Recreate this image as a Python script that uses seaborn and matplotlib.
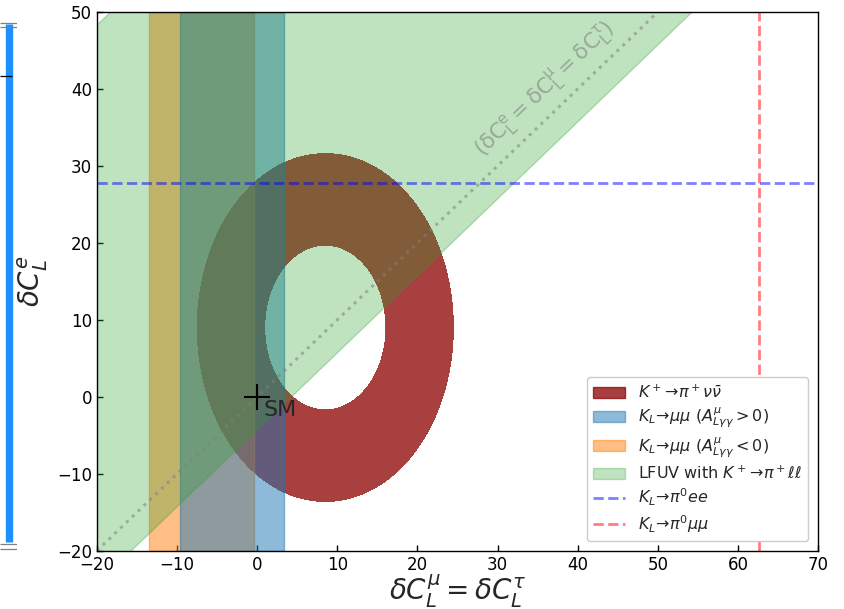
import numpy as np
import matplotlib
matplotlib.use("Agg")
import matplotlib.pyplot as plt
from matplotlib.patches import Patch
from matplotlib.lines import Line2D
import seaborn as sns

# axis ranges / ticks
x_range = [-20, 70]
y_range = [-20, 50]
x_ticks = [-20, -10, 0, 10, 20, 30, 40, 50, 60, 70]
y_ticks = [-20, -10, 0, 10, 20, 30, 40, 50]

# K+ -> pi+ nu nu: (dCe - ce)^2 + 2 (dCmu - cmu)^2 between r_in^2 and r_out^2
kpnn_center = [8.5, 9.0]
kpnn_radii = [10.7, 22.6]

# K_L -> mu mu allowed bands in dC_L^mu
klmm_pos = [-9.6, 3.35]
klmm_neg = [-13.5, -0.4]

# LFUV band, dCe = dCmu + offset
lfuv_offsets = [-4.3, 68.3]

# K_L -> pi0 ee (dCe bound) and K_L -> pi0 mu mu (dCmu bound)
klpee_bound = 27.8
klpmm_bound = 62.6

sm_point = [0, 0]

# stray panel on the left edge (pixel rows)
side_bar = [24, 542]
side_caps = [22.7, 26.7, 544, 549]
side_tick = [75.7]

sns.set_style("ticks", {"xtick.direction": "in", "ytick.direction": "in"})
plt.rcParams['font.family'] = ['DejaVu Sans']

fig = plt.figure(figsize=(8.44, 6.09), dpi=100)
ax = fig.add_axes([97 / 844, 1 - 550.7 / 609, 721 / 844, 538.7 / 609])

# annulus from K+ -> pi+ nu nu
gx, gy = np.meshgrid(np.linspace(x_range[0], x_range[1], 300),
                     np.linspace(y_range[0], y_range[1], 300))
f = (gy - kpnn_center[1]) ** 2 + 2 * (gx - kpnn_center[0]) ** 2
ax.contourf(gx, gy, f, levels=[kpnn_radii[0] ** 2, kpnn_radii[1] ** 2],
            colors=['darkred'], alpha=0.75)

# K_L -> mu mu bands (orange below blue)
ax.axvspan(klmm_neg[0], klmm_neg[1], color='tab:orange', alpha=0.5)
ax.axvspan(klmm_pos[0], klmm_pos[1], color='tab:blue', alpha=0.5)

# LFUV band
xs = np.array(x_range, dtype=float)
ax.fill_between(xs, xs + lfuv_offsets[0], xs + lfuv_offsets[1],
                color='tab:green', alpha=0.3)

# universal line
sns.lineplot(x=xs, y=xs, ax=ax, color='gray', linestyle=':', lw=2.2, alpha=0.55)
ax.text(35.9, 40.0, r'$\mathrm{(\delta C_L^e = \delta C_L^\mu = \delta C_L^\tau)}$',
        rotation=43.8, rotation_mode='anchor', ha='center', va='center',
        fontsize=15.5, color='gray', alpha=0.6)

# K_L -> pi0 l l bounds
ax.axhline(klpee_bound, color='blue', alpha=0.5, ls='--', lw=2)
ax.axvline(klpmm_bound, color='red', alpha=0.5, ls='--', lw=2)

# SM point
ax.plot(sm_point[0], sm_point[1], marker='+', color='k', markersize=19, mew=1.5)
ax.text(sm_point[0] + 0.8, sm_point[1] - 0.4, 'SM', fontsize=16, ha='left', va='top')

ax.set_xlim(x_range)
ax.set_ylim(y_range)
ax.set_xticks(x_ticks)
ax.set_yticks(y_ticks)
ax.tick_params(labelsize=12, length=4.5, width=1, colors='k')
for s in ax.spines.values():
    s.set_color('k')
    s.set_linewidth(1)
ax.set_xlabel(r'$\delta C_L^\mu = \delta C_L^\tau$', fontsize=20, labelpad=-1)
ax.set_ylabel(r'$\delta C_L^e$', fontsize=20, labelpad=5)

handles = [
    Patch(facecolor='darkred', edgecolor='darkred', alpha=0.75),
    Patch(color='tab:blue', alpha=0.5),
    Patch(color='tab:orange', alpha=0.5),
    Patch(color='tab:green', alpha=0.3),
    Line2D([], [], color='blue', alpha=0.5, ls='--', lw=2),
    Line2D([], [], color='red', alpha=0.5, ls='--', lw=2),
]
labels = [
    r'$K^+\!\to\!\pi^+\nu\bar{\nu}$',
    r'$K_L\!\to\!\mu\mu$ ($A^\mu_{L\gamma\gamma}>0$)',
    r'$K_L\!\to\!\mu\mu$ ($A^\mu_{L\gamma\gamma}<0$)',
    r'LFUV with $K^+\!\to\!\pi^+\ell\ell$',
    r'$K_L\!\to\!\pi^0 ee$',
    r'$K_L\!\to\!\pi^0 \mu\mu$',
]
ax.legend(handles, labels, loc='lower right', fontsize=11.5, framealpha=1,
          labelspacing=0.3, borderaxespad=0.6)

# left-edge remnant
ax2 = fig.add_axes([0, 0, 17 / 844, 1])
ax2.set_xlim(0, 17)
ax2.set_ylim(609, 0)
ax2.axis('off')
ax2.plot([9, 9], side_bar, color='dodgerblue', lw=5.3, solid_capstyle='butt')
ax2.hlines(side_caps, 0, 17, color='gray', lw=0.9)
ax2.hlines(side_tick, 0, 12, color='k', lw=0.9)

fig.savefig('out.png', dpi=100)
